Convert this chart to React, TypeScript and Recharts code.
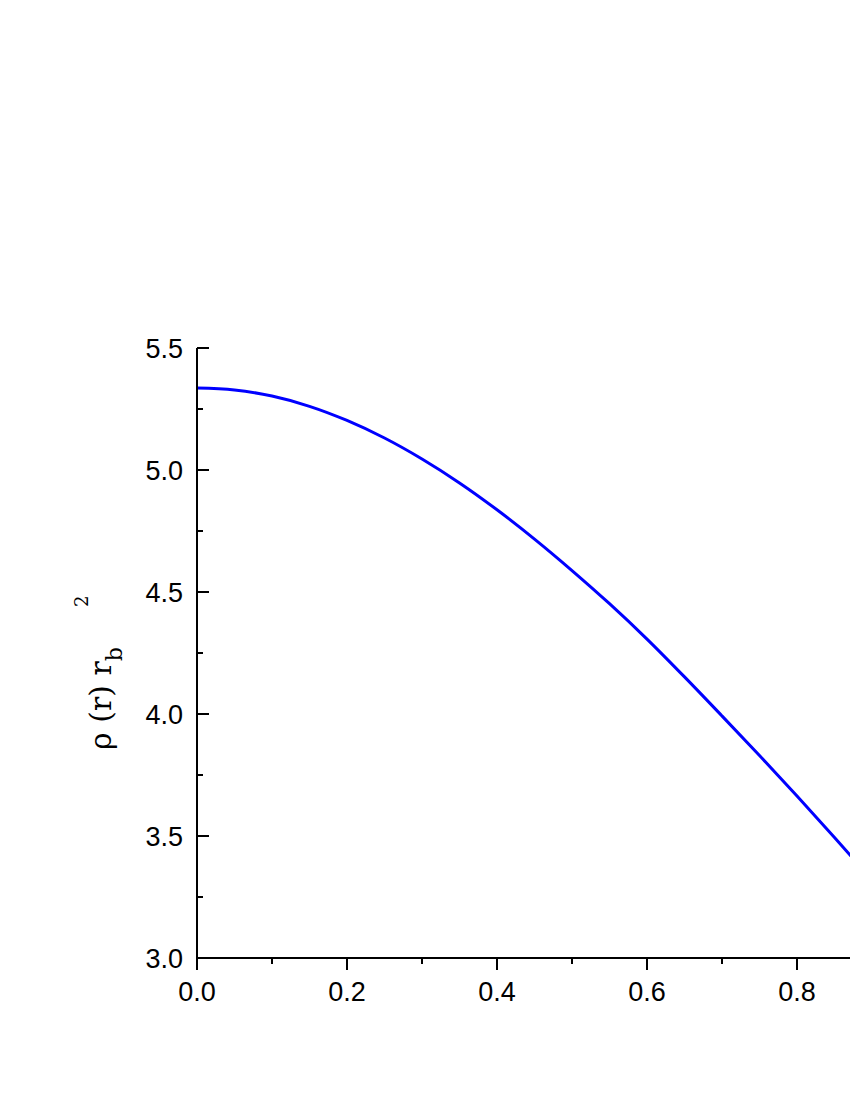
import { LineChart, Line, XAxis, YAxis } from "recharts";

// radius r / r_b
const rValues = [0, 0.05, 0.1, 0.15, 0.2, 0.25, 0.3, 0.35, 0.4, 0.45, 0.5, 0.55, 0.6, 0.65, 0.7, 0.75, 0.8, 0.85, 0.9];
// rho(r) * r_b^2
const rhoValues = [5.336, 5.328, 5.303, 5.261, 5.203, 5.131, 5.045, 4.947, 4.837, 4.717, 4.588, 4.452, 4.307, 4.152, 3.992, 3.83, 3.664, 3.494, 3.32];

const xTicks = [0, 0.1, 0.2, 0.3, 0.4, 0.5, 0.6, 0.7, 0.8, 0.9, 1.0];
const yTicks = [3.0, 3.25, 3.5, 3.75, 4.0, 4.25, 4.5, 4.75, 5.0, 5.25, 5.5];

const data = rValues.map((r, i) => ({ r, rho: rhoValues[i] }));

const TICK_FONT = "'Liberation Sans', Arial, sans-serif";
const FONT_SIZE = 27;
const MAJOR = 12;
const MINOR = 6;
const Y_MARGIN = 14;
const X_MARGIN = 24;

const isMajorX = (v: number) => Math.abs(v * 5 - Math.round(v * 5)) < 1e-6;
const isMajorY = (v: number) => Math.abs(v * 2 - Math.round(v * 2)) < 1e-6;

const LeftTick = (props: any) => {
  const { x, y, payload } = props;
  const major = isMajorY(payload.value);
  const ax = x + Y_MARGIN;
  return (
    <g>
      <line x1={ax} x2={ax + (major ? MAJOR : MINOR)} y1={y} y2={y} stroke="#000" strokeWidth={2} />
      {major && (
        <text x={x} y={y} dy="0.36em" textAnchor="end" fontFamily={TICK_FONT} fontSize={FONT_SIZE} fill="#000">
          {payload.value.toFixed(1)}
        </text>
      )}
    </g>
  );
};

const RightTick = (props: any) => {
  const { x, y, payload } = props;
  const major = isMajorY(payload.value);
  return <line x1={x} x2={x - (major ? MAJOR : MINOR)} y1={y} y2={y} stroke="#000" strokeWidth={2} />;
};

const BottomTick = (props: any) => {
  const { x, y, payload } = props;
  const major = isMajorX(payload.value);
  const ay = y - X_MARGIN;
  return (
    <g>
      <line x1={x} x2={x} y1={ay} y2={ay + (major ? MAJOR : MINOR)} stroke="#000" strokeWidth={2} />
      {major && (
        <text x={x} y={y} dy="0.71em" textAnchor="middle" fontFamily={TICK_FONT} fontSize={FONT_SIZE} fill="#000">
          {payload.value.toFixed(1)}
        </text>
      )}
    </g>
  );
};

const TopTick = (props: any) => {
  const { x, y, payload } = props;
  const major = isMajorX(payload.value);
  return <line x1={x} x2={x} y1={y} y2={y + (major ? MAJOR : MINOR)} stroke="#000" strokeWidth={2} />;
};

const YLabel = () => (
  <text
    transform="translate(111, 750) rotate(-90)"
    fontFamily="'DejaVu Serif', serif"
    fontSize={30}
    fill="#000"
  >
    ρ (r) r
    <tspan fontSize={22} dy={11}>b</tspan>
    <tspan fontSize={18} dx={40} dy={-34}>2</tspan>
  </text>
);

const axisLine = { stroke: "#000", strokeWidth: 2 };

export default function App() {
  return (
    <div style={{ position: "fixed", left: 0, top: 0, width: 850, height: 1100, overflow: "hidden", background: "#fff" }}>
      <LineChart width={1010} height={1100} data={data} margin={{ top: 348, right: 63, bottom: 82, left: 0 }}>
        <XAxis
          xAxisId="bottom"
          dataKey="r"
          type="number"
          domain={[0, 1]}
          ticks={xTicks}
          interval={0}
          height={60}
          tickSize={0}
          tickMargin={X_MARGIN}
          axisLine={axisLine}
          tickLine={false}
          tick={<BottomTick />}
        />
        <XAxis
          xAxisId="top"
          orientation="top"
          dataKey="r"
          type="number"
          domain={[0, 1]}
          ticks={xTicks}
          interval={0}
          height={0}
          tickSize={0}
          tickMargin={0}
          axisLine={axisLine}
          tickLine={false}
          tick={<TopTick />}
        />
        <YAxis
          yAxisId="left"
          type="number"
          domain={[3, 5.5]}
          ticks={yTicks}
          interval={0}
          width={197}
          tickSize={0}
          tickMargin={Y_MARGIN}
          axisLine={axisLine}
          tickLine={false}
          tick={<LeftTick />}
          label={{ content: () => <YLabel /> }}
        />
        <YAxis
          yAxisId="right"
          orientation="right"
          type="number"
          domain={[3, 5.5]}
          ticks={yTicks}
          interval={0}
          width={0}
          tickSize={0}
          tickMargin={0}
          axisLine={axisLine}
          tickLine={false}
          tick={<RightTick />}
        />
        <Line
          xAxisId="bottom"
          yAxisId="left"
          type="monotone"
          dataKey="rho"
          stroke="#0000ff"
          strokeWidth={3}
          dot={false}
          isAnimationActive={false}
        />
      </LineChart>
    </div>
  );
}
